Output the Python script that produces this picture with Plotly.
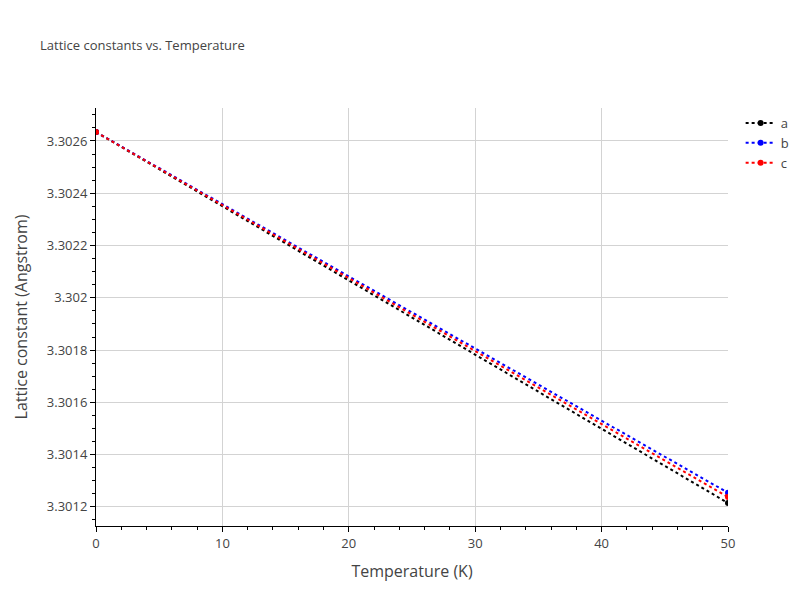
import plotly.graph_objects as go

temps = [0, 50]
a_vals = [3.302634, 3.301215]
b_vals = [3.302634, 3.301254]
c_vals = [3.302634, 3.301238]
names = ["a", "b", "c"]
colors = ["black", "blue", "red"]

fig = go.Figure()
for n, v, col in zip(names, [a_vals, b_vals, c_vals], colors):
    fig.add_trace(go.Scatter(x=temps, y=v, name=n, mode="lines+markers",
                             line=dict(color=col, dash="dot", width=2),
                             marker=dict(color=col, size=6)))

ax = dict(showline=True, linecolor="black", linewidth=1, ticks="outside",
          tickcolor="black", gridcolor="#d3d3d3", zeroline=False, automargin=False,
          minor=dict(ticks="outside", tickcolor="black", ticklen=3, showgrid=False),
          title_font=dict(size=16, color="#444"), tickfont=dict(size=13, color="#444"))
fig.update_layout(
    width=800, height=600, plot_bgcolor="white", paper_bgcolor="white",
    title=dict(text="Lattice constants vs. Temperature", x=0.04, y=0.945,
               font=dict(size=13, color="#444")),
    margin=dict(l=88, r=80, t=100, b=82),
    xaxis=dict(ax, title_text="Temperature (K)", range=[0, 50], dtick=10),
    yaxis=dict(ax, title_text="Lattice constant (Angstrom)",
               range=[3.301127, 3.302726], dtick=0.0002),
    legend=dict(x=1.02, y=1, font=dict(size=13, color="#444")),
    font=dict(family="Open Sans"),
)
fig.write_html("out.html")
